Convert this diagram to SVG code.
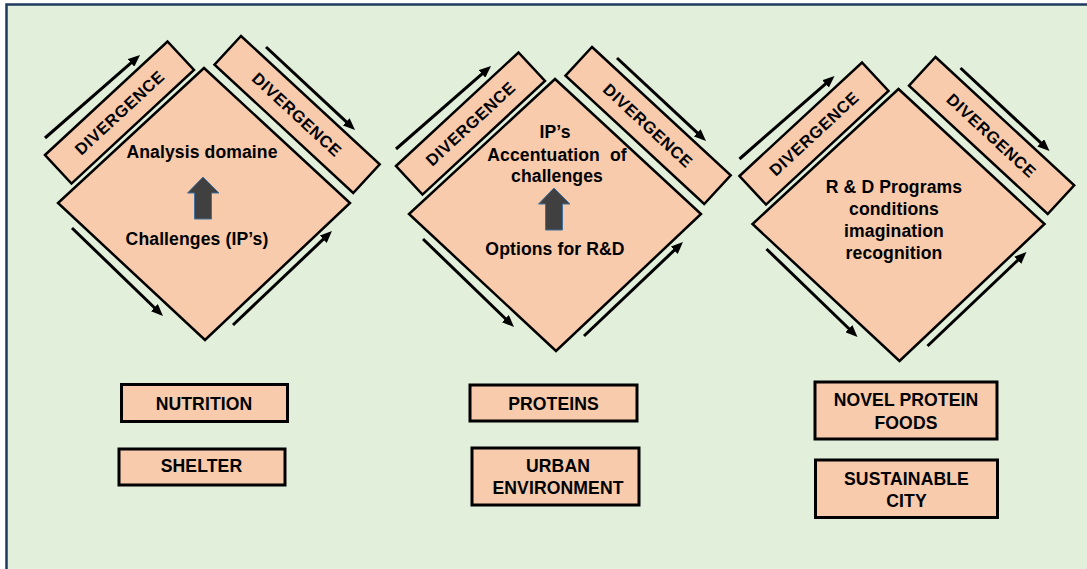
<svg xmlns="http://www.w3.org/2000/svg" width="1087" height="569" viewBox="0 0 1087 569">
<style>
.bg{fill:#E2EFDA}
.frame{fill:none;stroke:#1F3A5F;stroke-width:2.5}
.shape{fill:#F8CBAD;stroke:#000;stroke-width:2.5;stroke-linejoin:miter}
.box{fill:#F8CBAD;stroke:#000;stroke-width:3}
.up{fill:#404040;stroke:#41719C;stroke-width:1}
.t{font-family:'Liberation Sans',Arial,sans-serif;font-weight:bold;font-size:17.6px;fill:#000;text-anchor:middle;letter-spacing:0.1px}
.dv{font-family:'Liberation Sans',Arial,sans-serif;font-weight:bold;font-size:16.5px;fill:#000;text-anchor:middle;letter-spacing:0.6px}
.ar{fill:none;stroke:#000;stroke-width:3}
</style>
<defs>
<marker id="ah" viewBox="0 0 12 10" refX="2" refY="5" markerWidth="12" markerHeight="10" markerUnits="userSpaceOnUse" orient="auto">
<path d="M0,0 L12,5 L0,10 z" fill="#000"/>
</marker>
</defs>
<rect x="0" y="0" width="1087" height="569" fill="#fff"/>
<rect class="bg" x="6" y="4" width="1081" height="565"/>
<path class="frame" d="M6.5,569 V4.5 H1087"/>

<g id="diamond1">
<polygon class="shape" points="204,68 350,203 205,340 58,203"/>
<polygon class="up" points="203,177 219,193 211.5,193 211.5,219 194.5,219 194.5,193 187.5,193"/>
<text class="t" x="202" y="158">Analysis domaine</text>
<text class="t" x="197" y="245">Challenges (IP’s)</text>
</g>
<g id="div1a">
<polygon class="shape" points="45,155 167.5,41.5 194,70 71.5,183.6"/>
<text class="dv" transform="translate(119.5,112.5) rotate(-42.8)" y="6">DIVERGENCE</text>
</g>
<g id="div1b">
<polygon class="shape" points="241,36 379.7,164.4 353.2,193 214.5,64.6"/>
<text class="dv" transform="translate(297,114.5) rotate(42.8)" y="6">DIVERGENCE</text>
</g>

<g id="diamond2" transform="translate(351,11)">
<polygon class="shape" points="204,68 350,203 205,340 58,203"/>
<polygon class="up" points="203,177 219,193 211.5,193 211.5,219 194.5,219 194.5,193 187.5,193"/>
</g>
<g id="diamond2-text">
<text class="t" x="555" y="138">IP’s</text>
<text class="t" x="557" y="160.5" xml:space="preserve">Accentuation  of</text>
<text class="t" x="557" y="181.5">challenges</text>
<text class="t" x="555" y="255">Options for R&amp;D</text>
</g>
<g id="div2a" transform="translate(351,11)">
<polygon class="shape" points="45,155 167.5,41.5 194,70 71.5,183.6"/>
<text class="dv" transform="translate(119.5,112.5) rotate(-42.8)" y="6">DIVERGENCE</text>
</g>
<g id="div2b" transform="translate(351,11)">
<polygon class="shape" points="241,36 379.7,164.4 353.2,193 214.5,64.6"/>
<text class="dv" transform="translate(297,114.5) rotate(42.8)" y="6">DIVERGENCE</text>
</g>

<g id="diamond3" transform="translate(694.5,21)">
<polygon class="shape" points="204,68 350,203 205,340 58,203"/>
</g>
<g id="diamond3-text">
<text class="t" x="894" y="192.5">R &amp; D Programs</text>
<text class="t" x="894" y="215">conditions</text>
<text class="t" x="894" y="237">imagination</text>
<text class="t" x="894" y="259">recognition</text>
</g>
<g id="div3a" transform="translate(694.5,21)">
<polygon class="shape" points="45,155 167.5,41.5 194,70 71.5,183.6"/>
<text class="dv" transform="translate(119.5,112.5) rotate(-42.8)" y="6">DIVERGENCE</text>
</g>
<g id="div3b" transform="translate(694.5,21)">
<polygon class="shape" points="241,36 379.7,164.4 353.2,193 214.5,64.6"/>
<text class="dv" transform="translate(297,114.5) rotate(42.8)" y="6">DIVERGENCE</text>
</g>

<g id="connectors">
<g>
<line class="ar" x1="45" y1="138" x2="132.5" y2="61.6" marker-end="url(#ah)"/>
<line class="ar" x1="266" y1="47" x2="347.7" y2="123.2" marker-end="url(#ah)"/>
<line class="ar" x1="72" y1="228" x2="155.8" y2="309" marker-end="url(#ah)"/>
<line class="ar" x1="233" y1="325" x2="324.7" y2="237.9" marker-end="url(#ah)"/>
</g>
<g transform="translate(351,11)">
<line class="ar" x1="45" y1="138" x2="132.5" y2="61.6" marker-end="url(#ah)"/>
<line class="ar" x1="266" y1="47" x2="347.7" y2="123.2" marker-end="url(#ah)"/>
<line class="ar" x1="72" y1="228" x2="155.8" y2="309" marker-end="url(#ah)"/>
<line class="ar" x1="233" y1="325" x2="324.7" y2="237.9" marker-end="url(#ah)"/>
</g>
<g transform="translate(694.5,21)">
<line class="ar" x1="45" y1="138" x2="132.5" y2="61.6" marker-end="url(#ah)"/>
<line class="ar" x1="266" y1="47" x2="347.7" y2="123.2" marker-end="url(#ah)"/>
<line class="ar" x1="72" y1="228" x2="155.8" y2="309" marker-end="url(#ah)"/>
<line class="ar" x1="233" y1="325" x2="324.7" y2="237.9" marker-end="url(#ah)"/>
</g>
</g>

<g id="nutrition">
<rect class="box" x="121.5" y="384.5" width="166" height="37"/>
<text class="t" x="204" y="409.5">NUTRITION</text>
</g>
<g id="shelter">
<rect class="box" x="119" y="449" width="166" height="36"/>
<text class="t" x="201.5" y="472">SHELTER</text>
</g>
<g id="proteins">
<rect class="box" x="470" y="385" width="167" height="36"/>
<text class="t" x="553.5" y="409.5">PROTEINS</text>
</g>
<g id="urban">
<rect class="box" x="472" y="448" width="167" height="57"/>
<text class="t" x="558" y="472">URBAN</text>
<text class="t" x="558" y="493.5">ENVIRONMENT</text>
</g>
<g id="novel">
<rect class="box" x="815" y="382" width="182" height="57"/>
<text class="t" x="906" y="406">NOVEL PROTEIN</text>
<text class="t" x="906" y="428.5">FOODS</text>
</g>
<g id="sustainable">
<rect class="box" x="815.5" y="460" width="182" height="57.5"/>
<text class="t" x="906.5" y="485">SUSTAINABLE</text>
<text class="t" x="906.5" y="507">CITY</text>
</g>
</svg>
